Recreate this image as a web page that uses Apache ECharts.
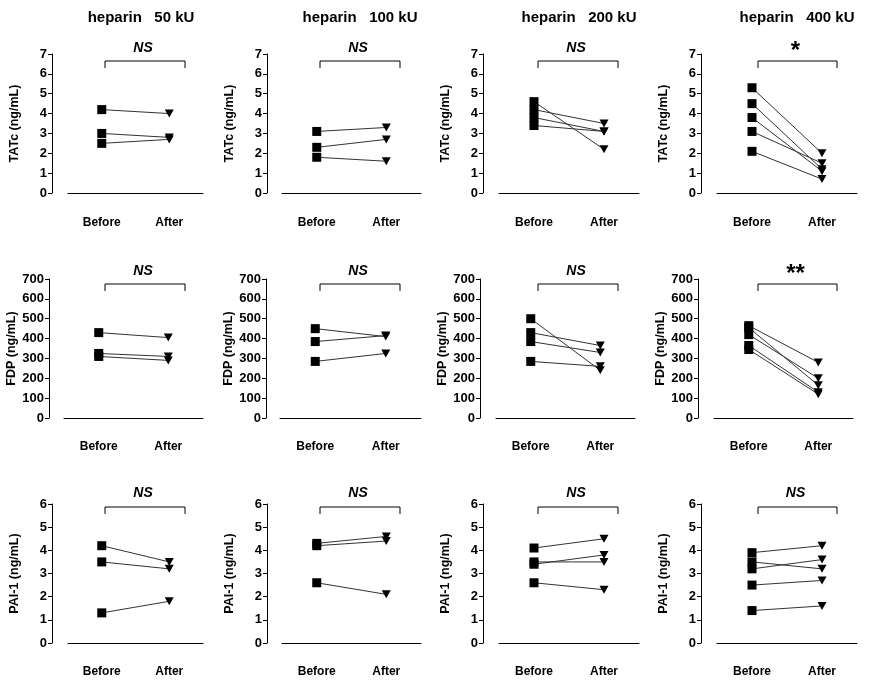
<!DOCTYPE html>
<html>
<head>
<meta charset="utf-8">
<script src="https://cdn.jsdelivr.net/npm/echarts@6/dist/echarts.min.js"></script>
<style>html,body{margin:0;padding:0;background:#fff}#c{width:872px;height:686px}</style>
</head>
<body>
<div id="c"></div>
<script>
// ---- data ----
const categories = ['Before', 'After'];
const doseTitles = ['heparin   50 kU', 'heparin   100 kU', 'heparin   200 kU', 'heparin   400 kU'];
const measureNames = ['TATc (ng/mL)', 'FDP (ng/mL)', 'PAI-1 (ng/mL)'];
const yMaxes = [7, 700, 6];
const yIntervals = [1, 100, 1];
const signifTATc = ['NS', 'NS', 'NS', '*'];
const signifFDP = ['NS', 'NS', 'NS', '**'];
const signifPAI = ['NS', 'NS', 'NS', 'NS'];

const tatc50Before = [4.2, 3.0, 2.5];
const tatc50After = [4.0, 2.8, 2.7];
const tatc100Before = [3.1, 2.3, 1.8];
const tatc100After = [3.3, 2.7, 1.6];
const tatc200Before = [4.6, 4.2, 3.8, 3.4];
const tatc200After = [2.2, 3.5, 3.1, 3.1];
const tatc400Before = [5.3, 4.5, 3.8, 3.1, 2.1];
const tatc400After = [2.0, 1.2, 1.1, 1.5, 0.7];

const fdp50Before = [430, 325, 310];
const fdp50After = [405, 310, 290];
const fdp100Before = [450, 385, 285];
const fdp100After = [410, 415, 325];
const fdp200Before = [500, 430, 385, 285];
const fdp200After = [240, 365, 330, 260];
const fdp400Before = [465, 455, 420, 365, 345];
const fdp400After = [280, 165, 200, 130, 120];

const pai50Before = [4.2, 3.5, 1.3];
const pai50After = [3.5, 3.2, 1.8];
const pai100Before = [4.3, 4.2, 2.6];
const pai100After = [4.6, 4.4, 2.1];
const pai200Before = [4.1, 3.5, 3.4, 2.6];
const pai200After = [4.5, 3.5, 3.8, 2.3];
const pai400Before = [3.9, 3.5, 3.2, 2.5, 1.4];
const pai400After = [4.2, 3.2, 3.6, 2.7, 1.6];

const panelData = [
  [[tatc50Before, tatc50After], [tatc100Before, tatc100After], [tatc200Before, tatc200After], [tatc400Before, tatc400After]],
  [[fdp50Before, fdp50After], [fdp100Before, fdp100After], [fdp200Before, fdp200After], [fdp400Before, fdp400After]],
  [[pai50Before, pai50After], [pai100Before, pai100After], [pai200Before, pai200After], [pai400Before, pai400After]]
];
const signif = [signifTATc, signifFDP, signifPAI];

// ---- layout ----
const FONT = '"Liberation Sans", Arial, sans-serif';
const rowTop = [54, 279, 504];
const plotH = 139;
const xAxisOffset = [16, 15, 15];
const gridLefts = [[68, 282, 499, 717], [64, 280, 496, 714], [68, 282, 499, 717]];
const gridRights = [[203, 421, 639, 857], [203, 421, 635, 853], [203, 421, 639, 857]];
const yAxisXs = [[52, 267, 483, 701], [49, 266, 480, 698], [52, 267, 483, 701]];
const bracketX = [[105, 185], [320, 400], [538, 618], [758, 837]];
const bracketTop = [61, 284, 507];
const signifY = [48, 271, 493];
const titleX = [141, 360, 579, 797];
const titleY = 18;

const grids = [], xAxes = [], yAxes = [], series = [], graphics = [];
let idx = 0;
for (let r = 0; r < 3; r++) {
  for (let c = 0; c < 4; c++) {
    const gl = gridLefts[r][c], gr = gridRights[r][c];
    grids.push({ left: gl, top: rowTop[r], width: gr - gl, height: plotH, containLabel: false });
    xAxes.push({
      type: 'category', gridIndex: idx, data: categories, boundaryGap: true,
      offset: xAxisOffset[r],
      axisLine: { lineStyle: { color: '#000', width: 1 } },
      axisTick: { show: false },
      axisLabel: { color: '#000', fontWeight: 'bold', fontSize: 12, fontFamily: FONT, margin: 8 },
      splitLine: { show: false }
    });
    yAxes.push({
      type: 'value', gridIndex: idx, min: 0, max: yMaxes[r], interval: yIntervals[r],
      offset: gl - yAxisXs[r][c],
      name: measureNames[r], nameLocation: 'middle', nameRotate: 90, nameGap: 31,
      nameTextStyle: { color: '#000', fontWeight: 'bold', fontSize: 12.5, fontFamily: FONT },
      axisLine: { show: true, lineStyle: { color: '#000', width: 1 } },
      axisTick: { show: true, length: 4, lineStyle: { color: '#000' } },
      axisLabel: { color: '#000', fontWeight: 'bold', fontSize: 13, fontFamily: FONT, margin: 5 },
      splitLine: { show: false }
    });
    const [bef, aft] = panelData[r][c];
    for (let i = 0; i < bef.length; i++) {
      series.push({
        type: 'line', xAxisIndex: idx, yAxisIndex: idx, symbol: 'none', silent: true,
        lineStyle: { color: '#333', width: 1 }, z: 2,
        data: [[categories[0], bef[i]], [categories[1], aft[i]]]
      });
    }
    series.push({
      type: 'scatter', xAxisIndex: idx, yAxisIndex: idx, symbol: 'rect', symbolSize: 9,
      itemStyle: { color: '#000', opacity: 1 }, z: 3, silent: true,
      data: bef.map(v => [categories[0], v])
    });
    series.push({
      type: 'scatter', xAxisIndex: idx, yAxisIndex: idx, symbol: 'triangle', symbolSize: [9, 8],
      symbolRotate: 180, itemStyle: { color: '#000', opacity: 1 }, z: 3, silent: true,
      data: aft.map(v => [categories[1], v])
    });
    // bracket
    const [bx1, bx2] = bracketX[c];
    const bt = bracketTop[r];
    graphics.push({
      type: 'polyline', silent: true,
      shape: { points: [[bx1, bt + 7], [bx1, bt], [bx2, bt], [bx2, bt + 7]] },
      style: { stroke: '#000', lineWidth: 1, fill: null }
    });
    const s = signif[r][c];
    const isStar = s.indexOf('*') >= 0;
    graphics.push({
      type: 'text', silent: true,
      x: (bx1 + bx2) / 2 - 2, y: isStar ? signifY[r] + 3 : signifY[r],
      style: {
        text: s, fill: '#000', align: 'center', verticalAlign: 'middle',
        font: (isStar ? 'bold 24px ' : 'italic bold 14px ') + FONT
      }
    });
    idx++;
  }
}
for (let c = 0; c < 4; c++) {
  graphics.push({
    type: 'text', silent: true, x: titleX[c], y: titleY,
    style: { text: doseTitles[c], fill: '#000', align: 'center', verticalAlign: 'middle', font: 'bold 15px ' + FONT }
  });
}

const chart = echarts.init(document.getElementById('c'), null, { renderer: 'canvas' });
chart.setOption({
  animation: false,
  backgroundColor: '#fff',
  grid: grids, xAxis: xAxes, yAxis: yAxes, series: series,
  graphic: graphics
});
</script>
</body>
</html>
